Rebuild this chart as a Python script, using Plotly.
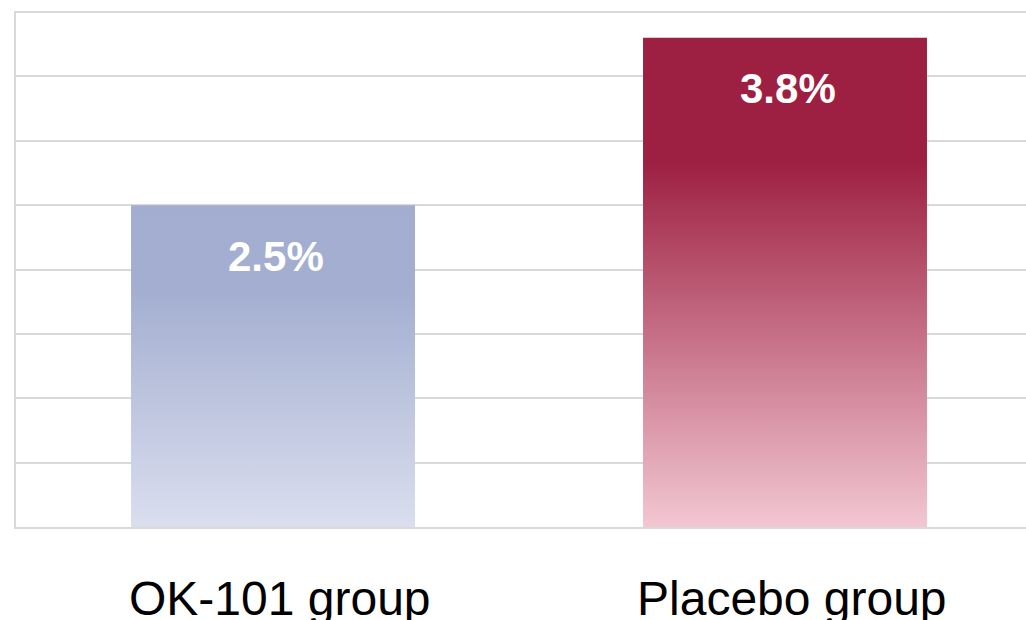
import plotly.graph_objects as go

# ---- data ----
categories = ["OK-101 group", "Placebo group"]
values = [2.5, 3.8]
value_labels = ["2.5%", "3.8%"]
bar_colorscales = [
    [[0.0, "#dadeee"], [0.74, "#a3aed0"], [1.0, "#a2add0"]],
    [[0.0, "#f2c7d2"], [0.75, "#9d1f41"], [1.0, "#9d1f41"]],
]

positions = list(range(len(categories)))
half_w = 0.2773

fig = go.Figure()
for pos, val, cs in zip(positions, values, bar_colorscales):
    xs = [pos - half_w, pos + half_w, pos + half_w, pos - half_w, pos - half_w]
    ys = [0, 0, val, val, 0]
    fig.add_trace(go.Scatter(
        x=xs, y=ys, mode="lines", fill="toself",
        line=dict(width=0),
        fillgradient=dict(type="vertical", colorscale=cs, start=0, stop=val),
        hoverinfo="skip", showlegend=False,
    ))

for pos, val, lab in zip(positions, values, value_labels):
    fig.add_annotation(
        x=pos, y=val, text=lab, showarrow=False,
        xanchor="center", yanchor="middle", yshift=-51, xshift=3,
        font=dict(family="Arial, Liberation Sans, sans-serif", size=42, color="white", weight="bold"),
    )

for pos, cat in zip(positions, categories):
    fig.add_annotation(
        x=pos, y=0, text=cat, showarrow=False,
        xanchor="center", yanchor="middle", yshift=-71, xshift=7,
        font=dict(family="Arial, Liberation Sans, sans-serif", size=48, color="black"),
    )

fig.update_layout(
    width=1026, height=620,
    margin=dict(l=16, r=0, t=11, b=93, autoexpand=False),
    paper_bgcolor="white", plot_bgcolor="white",
    showlegend=False,
    font=dict(family="Arial, Liberation Sans, sans-serif"),
    xaxis=dict(
        range=[-0.502, 1.4707],
        showticklabels=False, automargin=False,
        showgrid=False, zeroline=False,
        showline=True, linecolor="#d9d9d9", linewidth=2,
        ticks="",
    ),
    yaxis=dict(
        range=[0, 4.008], tick0=0, dtick=0.5, automargin=False,
        showticklabels=False, ticks="",
        showgrid=True, gridcolor="#d9d9d9", gridwidth=2,
        zeroline=False,
        showline=True, linecolor="#d9d9d9", linewidth=2,
    ),
)

fig.write_html("out.html")
